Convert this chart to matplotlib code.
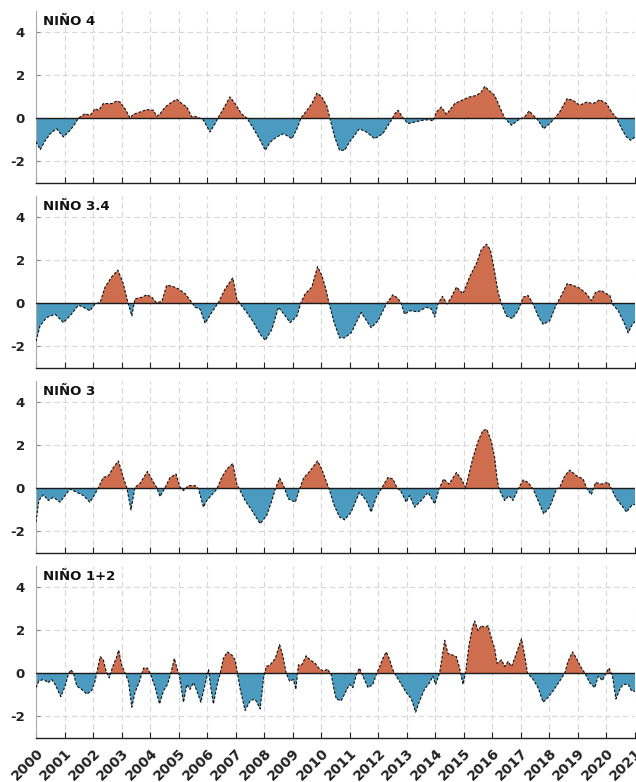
import matplotlib
matplotlib.use("Agg")
import matplotlib.pyplot as plt
import numpy as np

plt.rcParams['axes.unicode_minus'] = False
plt.rcParams['font.family'] = ['DejaVu Sans']

# ---------------- data ----------------
titles = ["NIÑO 4", "NIÑO 3.4", "NIÑO 3", "NIÑO 1+2"]
years = list(range(2000, 2022))
yticks = [-2, 0, 2, 4]

t4 = [2000.00, 2000.15, 2000.30, 2000.50, 2000.72, 2000.96, 2001.20, 2001.37, 2001.49, 2001.72,
      2001.90, 2002.07, 2002.20, 2002.36, 2002.65, 2002.83, 2002.95, 2003.12, 2003.30, 2003.41,
      2003.65, 2003.88, 2004.12, 2004.23, 2004.35, 2004.53, 2004.76, 2004.94, 2005.11, 2005.29,
      2005.46, 2005.56, 2005.70, 2005.87, 2006.10, 2006.28, 2006.40, 2006.57, 2006.80, 2006.98,
      2007.20, 2007.39, 2007.63, 2007.86, 2008.04, 2008.21, 2008.44, 2008.68, 2008.97, 2009.15,
      2009.29, 2009.50, 2009.67, 2009.85, 2010.02, 2010.20, 2010.30, 2010.47, 2010.64, 2010.82,
      2010.99, 2011.34, 2011.58, 2011.87, 2012.16, 2012.46, 2012.58, 2012.69, 2012.87, 2013.04,
      2013.27, 2013.57, 2013.80, 2013.92, 2014.04, 2014.21, 2014.39, 2014.68, 2014.97, 2015.20,
      2015.44, 2015.61, 2015.73, 2015.90, 2016.08, 2016.26, 2016.43, 2016.67, 2016.90, 2017.13,
      2017.29, 2017.43, 2017.54, 2017.80, 2018.01, 2018.19, 2018.36, 2018.62, 2018.83, 2019.06,
      2019.30, 2019.53, 2019.77, 2020.00, 2020.18, 2020.35, 2020.53, 2020.70, 2020.85, 2021.00]
v4 = [-1.10, -1.47, -1.10, -0.73, -0.50, -0.88, -0.57, -0.26, 0.00, 0.20,
      0.12, 0.43, 0.36, 0.67, 0.67, 0.79, 0.74, 0.43, 0.00, 0.17,
      0.28, 0.39, 0.36, 0.08, 0.20, 0.51, 0.74, 0.87, 0.67, 0.51,
      0.05, 0.08, 0.02, -0.10, -0.65, -0.26, 0.05, 0.43, 0.98, 0.67,
      0.20, 0.00, -0.50, -1.04, -1.50, -1.12, -0.88, -0.73, -0.96, -0.50,
      0.00, 0.36, 0.67, 1.16, 0.98, 0.55, 0.00, -0.88, -1.50, -1.50,
      -1.12, -0.50, -0.65, -0.96, -0.73, -0.10, 0.20, 0.36, 0.00, -0.26,
      -0.19, -0.10, -0.08, -0.14, 0.28, 0.51, 0.17, 0.67, 0.85, 0.98,
      1.05, 1.21, 1.47, 1.26, 1.05, 0.51, 0.00, -0.34, -0.10, 0.05,
      0.33, 0.12, 0.00, -0.50, -0.26, 0.00, 0.28, 0.90, 0.82, 0.59,
      0.74, 0.67, 0.85, 0.67, 0.28, 0.00, -0.50, -0.88, -1.04, -0.88]

t34 = [2000.00, 2000.14, 2000.37, 2000.67, 2000.96, 2001.19, 2001.49, 2001.66, 2001.89, 2002.07,
       2002.25, 2002.42, 2002.65, 2002.87, 2003.06, 2003.22, 2003.36, 2003.47, 2003.71, 2003.88,
       2004.06, 2004.21, 2004.41, 2004.58, 2004.76, 2004.99, 2005.23, 2005.46, 2005.58, 2005.75,
       2005.93, 2006.16, 2006.40, 2006.63, 2006.90, 2007.04, 2007.16, 2007.39, 2007.63, 2007.86,
       2008.04, 2008.27, 2008.50, 2008.74, 2008.91, 2009.15, 2009.29, 2009.44, 2009.67, 2009.87,
       2010.02, 2010.16, 2010.28, 2010.45, 2010.64, 2010.82, 2011.05, 2011.40, 2011.75, 2011.99,
       2012.28, 2012.51, 2012.69, 2012.81, 2012.92, 2013.10, 2013.39, 2013.68, 2013.86, 2013.98,
       2014.09, 2014.25, 2014.41, 2014.56, 2014.74, 2014.97, 2015.20, 2015.44, 2015.61, 2015.79,
       2015.93, 2016.08, 2016.20, 2016.32, 2016.49, 2016.70, 2016.90, 2017.08, 2017.25, 2017.40,
       2017.60, 2017.78, 2018.01, 2018.25, 2018.42, 2018.62, 2018.83, 2019.06, 2019.30, 2019.47,
       2019.62, 2019.82, 2020.00, 2020.12, 2020.21, 2020.41, 2020.64, 2020.76, 2020.91, 2021.03]
v34 = [-1.78, -1.07, -0.68, -0.52, -0.91, -0.60, -0.10, -0.20, -0.36, -0.05,
       0.03, 0.74, 1.21, 1.53, 0.90, 0.03, -0.60, 0.19, 0.27, 0.38,
       0.27, 0.03, 0.06, 0.82, 0.79, 0.66, 0.43, 0.03, -0.20, -0.28,
       -0.94, -0.44, 0.03, 0.66, 1.17, 0.19, -0.05, -0.44, -0.91, -1.46,
       -1.73, -1.23, -0.20, -0.60, -0.91, -0.60, 0.03, 0.43, 0.74, 1.69,
       1.29, 0.66, -0.05, -0.90, -1.62, -1.62, -1.39, -0.44, -1.15, -0.83,
       -0.05, 0.38, 0.22, -0.05, -0.52, -0.36, -0.41, -0.20, -0.28, -0.65,
       -0.05, 0.31, -0.05, 0.27, 0.74, 0.43, 1.21, 1.84, 2.47, 2.74,
       2.47, 1.45, 0.50, -0.05, -0.60, -0.72, -0.36, 0.27, 0.35, 0.03,
       -0.60, -0.99, -0.83, -0.05, 0.35, 0.90, 0.82, 0.69, 0.43, 0.11,
       0.50, 0.58, 0.43, 0.35, -0.05, -0.36, -0.99, -1.39, -0.99, -0.83]

t3 = [2000.00, 2000.10, 2000.26, 2000.43, 2000.61, 2000.84, 2001.02, 2001.19, 2001.43, 2001.66,
      2001.89, 2002.07, 2002.19, 2002.36, 2002.54, 2002.71, 2002.89, 2003.06, 2003.18, 2003.33,
      2003.47, 2003.65, 2003.91, 2004.12, 2004.23, 2004.35, 2004.53, 2004.70, 2004.91, 2005.05,
      2005.17, 2005.35, 2005.58, 2005.70, 2005.87, 2005.99, 2006.34, 2006.51, 2006.69, 2006.90,
      2007.04, 2007.13, 2007.33, 2007.57, 2007.86, 2008.09, 2008.27, 2008.39, 2008.54, 2008.68,
      2008.85, 2009.09, 2009.24, 2009.38, 2009.61, 2009.87, 2010.02, 2010.19, 2010.30, 2010.45,
      2010.64, 2010.82, 2011.05, 2011.34, 2011.58, 2011.75, 2011.93, 2012.10, 2012.34, 2012.51,
      2012.65, 2012.81, 2012.98, 2013.10, 2013.27, 2013.51, 2013.74, 2013.98, 2014.13, 2014.29,
      2014.48, 2014.74, 2014.91, 2015.06, 2015.18, 2015.32, 2015.50, 2015.67, 2015.81, 2015.96,
      2016.08, 2016.16, 2016.23, 2016.43, 2016.58, 2016.72, 2016.90, 2017.08, 2017.25, 2017.43,
      2017.60, 2017.80, 2018.01, 2018.25, 2018.36, 2018.54, 2018.71, 2018.95, 2019.18, 2019.32,
      2019.47, 2019.62, 2019.82, 2020.06, 2020.18, 2020.35, 2020.58, 2020.70, 2020.88, 2021.03]
v3 = [-1.58, -0.58, -0.31, -0.58, -0.43, -0.66, -0.35, -0.05, -0.20, -0.35,
      -0.66, -0.28, 0.03, 0.49, 0.57, 0.95, 1.26, 0.49, 0.03, -1.02,
      0.03, 0.22, 0.77, 0.26, 0.03, -0.40, 0.03, 0.49, 0.65, 0.03,
      -0.12, 0.11, 0.11, -0.05, -0.89, -0.58, -0.05, 0.49, 0.88, 1.14,
      0.18, -0.05, -0.58, -1.05, -1.66, -1.28, -0.58, -0.05, 0.46, 0.11,
      -0.51, -0.66, -0.05, 0.46, 0.80, 1.26, 0.88, 0.25, -0.15, -0.80,
      -1.35, -1.48, -1.12, -0.20, -0.58, -1.12, -0.43, -0.05, 0.49, 0.42,
      0.03, -0.20, -0.66, -0.35, -0.89, -0.58, -0.20, -0.74, -0.05, 0.42,
      0.18, 0.72, 0.42, 0.03, 0.65, 1.42, 2.18, 2.68, 2.72, 2.18,
      1.42, 0.49, -0.05, -0.58, -0.35, -0.58, -0.05, 0.37, 0.26, -0.05,
      -0.58, -1.20, -0.89, -0.05, 0.03, 0.57, 0.83, 0.57, 0.42, -0.05,
      -0.31, 0.26, 0.18, 0.26, -0.05, -0.51, -0.89, -1.12, -0.82, -0.74]

t12 = [2000.00, 2000.10, 2000.26, 2000.43, 2000.55, 2000.67, 2000.87, 2001.02, 2001.13, 2001.22,
       2001.31, 2001.43, 2001.60, 2001.78, 2001.95, 2002.07, 2002.13, 2002.25, 2002.36, 2002.46,
       2002.57, 2002.69, 2002.81, 2002.90, 2003.00, 2003.12, 2003.24, 2003.36, 2003.47, 2003.63,
       2003.77, 2003.91, 2004.02, 2004.18, 2004.33, 2004.47, 2004.61, 2004.73, 2004.85, 2004.94,
       2005.03, 2005.17, 2005.29, 2005.40, 2005.52, 2005.64, 2005.78, 2005.93, 2006.05, 2006.11,
       2006.22, 2006.34, 2006.46, 2006.57, 2006.71, 2006.87, 2006.98, 2007.06, 2007.16, 2007.33,
       2007.51, 2007.68, 2007.86, 2007.98, 2008.07, 2008.21, 2008.39, 2008.54, 2008.65, 2008.77,
       2008.89, 2009.03, 2009.11, 2009.20, 2009.32, 2009.47, 2009.61, 2009.79, 2009.91, 2010.08,
       2010.22, 2010.35, 2010.47, 2010.53, 2010.70, 2010.82, 2010.99, 2011.11, 2011.23, 2011.34,
       2011.46, 2011.64, 2011.81, 2011.95, 2012.05, 2012.16, 2012.28, 2012.40, 2012.51, 2012.63,
       2012.81, 2012.98, 2013.16, 2013.31, 2013.45, 2013.62, 2013.80, 2013.91, 2014.01, 2014.15,
       2014.25, 2014.33, 2014.44, 2014.62, 2014.74, 2014.85, 2014.97, 2015.06, 2015.18, 2015.30,
       2015.38, 2015.50, 2015.61, 2015.73, 2015.85, 2015.97, 2016.08, 2016.16, 2016.32, 2016.43,
       2016.55, 2016.67, 2016.78, 2016.90, 2017.02, 2017.13, 2017.23, 2017.43, 2017.60, 2017.78,
       2017.95, 2018.13, 2018.36, 2018.54, 2018.65, 2018.81, 2018.95, 2019.12, 2019.24, 2019.41,
       2019.59, 2019.71, 2019.86, 2019.98, 2020.09, 2020.21, 2020.33, 2020.47, 2020.58, 2020.76,
       2020.88, 2021.03]
v12 = [-0.68, -0.38, -0.30, -0.45, -0.30, -0.53, -1.10, -0.61, -0.08, 0.15,
       0.00, -0.61, -0.76, -0.98, -0.83, -0.38, 0.00, 0.76, 0.61, 0.08,
       -0.23, 0.30, 0.68, 1.06, 0.38, 0.00, -0.38, -1.59, -0.91, -0.38,
       0.23, 0.23, -0.08, -0.68, -1.44, -0.83, -0.53, 0.00, 0.68, 0.23,
       -0.15, -1.36, -0.53, -0.76, -0.45, -0.83, -1.36, -0.53, 0.15, -0.53,
       -1.44, -0.61, 0.00, 0.68, 0.98, 0.83, 0.61, 0.00, -0.76, -1.74,
       -1.29, -1.21, -1.67, -0.23, 0.30, 0.38, 0.68, 1.32, 0.83, 0.00,
       -0.38, -0.30, -0.76, 0.38, 0.38, 0.80, 0.61, 0.45, 0.23, 0.08,
       0.18, -0.08, -0.91, -1.21, -1.29, -0.98, -0.53, -0.68, -0.08, 0.23,
       -0.15, -0.68, -0.53, 0.00, 0.30, 0.68, 0.98, 0.61, 0.15, -0.15,
       -0.53, -0.91, -1.21, -1.82, -1.29, -0.76, -0.45, -0.15, -0.53, 0.00,
       0.83, 1.52, 0.91, 0.83, 0.76, 0.23, -0.53, 0.00, 1.29, 2.12,
       2.42, 1.97, 2.20, 2.12, 2.20, 1.59, 1.14, 0.45, 0.61, 0.30,
       0.53, 0.30, 0.68, 1.14, 1.59, 0.83, 0.00, -0.30, -0.68, -1.36,
       -1.14, -0.83, -0.38, 0.00, 0.53, 0.98, 0.68, 0.23, 0.00, -0.45,
       -0.68, -0.15, -0.35, 0.00, 0.23, -0.15, -1.21, -0.76, -0.53, -0.53,
       -0.83, -0.86]

series_t = [t4, t34, t3, t12]
series_v = [v4, v34, v3, v12]

# ---------------- style ----------------
POS = '#cf6e4e'
NEG = '#4b9ac0'
W, H = 636, 782
fig = plt.figure(figsize=(W / 100, H / 100), dpi=100)

left_px, right_px = 36, 635
tops_px = [10.5, 195.5, 380.5, 565.5]
h_px = 172

for i, (title, tt, vv) in enumerate(zip(titles, series_t, series_v)):
    top = tops_px[i]
    ax = fig.add_axes([left_px / W, 1 - (top + h_px) / H, (right_px - left_px) / W, h_px / H])
    tt = np.array(tt)
    vv = np.array(vv)
    ax.fill_between(tt, 0, vv, where=vv >= 0, interpolate=True, color=POS, lw=0, zorder=2)
    ax.fill_between(tt, 0, vv, where=vv <= 0, interpolate=True, color=NEG, lw=0, zorder=2)
    ax.plot(tt, vv, color='#111111', lw=0.8, ls=(0, (2.5, 1.5)), zorder=3)
    ax.axhline(0, color='#1a1a1a', lw=1.0, zorder=4)

    ax.set_xlim(2000, 2021)
    ax.set_ylim(-3, 5)
    ax.set_xticks(years)
    ax.set_yticks(yticks)
    ax.set_yticklabels([str(y) for y in yticks], fontweight='bold', fontsize=9.5, color='#222222')
    if i == 3:
        ax.set_xticklabels([str(y) for y in years], rotation=45, ha='right', va='top',
                           rotation_mode='anchor', fontweight='bold', fontsize=10, color='#222222')
    else:
        ax.set_xticklabels([])
    ax.set_axisbelow(True)
    ax.grid(True, ls=(0, (5, 3)), color='#d8d8d8', lw=0.8)
    ax.tick_params(axis='x', direction='in', length=4, width=0.8, color='#222222', pad=6)
    ax.tick_params(axis='y', direction='in', length=3, width=0.8, color='#888888', pad=8)
    for s in ['top', 'right']:
        ax.spines[s].set_visible(False)
    ax.spines['left'].set_color('#aaaaaa')
    ax.spines['left'].set_linewidth(0.8)
    ax.spines['bottom'].set_color('#222222')
    ax.spines['bottom'].set_linewidth(1.0)
    ax.text(0.012, 0.975, title, transform=ax.transAxes, ha='left', va='top',
            fontsize=9.5, fontweight='bold', color='#111111', zorder=6)

fig.savefig('out.png', dpi=100)
